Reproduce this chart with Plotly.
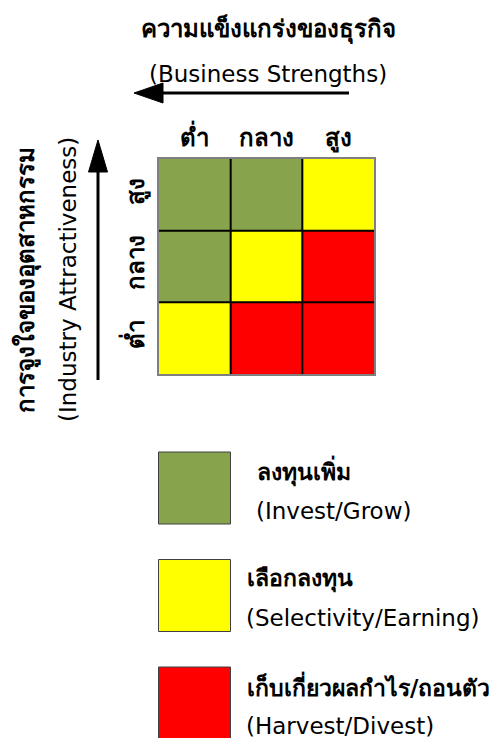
import plotly.graph_objects as go

# ---- data ----
col_labels = ["ต่ำ", "กลาง", "สูง"]          # Business Strengths (left->right)
row_labels = ["ต่ำ", "กลาง", "สูง"]          # Industry Attractiveness (bottom->top)
# 0 = Invest/Grow, 1 = Selectivity/Earning, 2 = Harvest/Divest
zone_matrix = [
    [1, 2, 2],   # ต่ำ
    [0, 1, 2],   # กลาง
    [0, 0, 1],   # สูง
]
legend_codes = [0, 1, 2]
legend_th = ["ลงทุนเพิ่ม", "เลือกลงทุน", "เก็บเกี่ยวผลกำไร/ถอนตัว"]
legend_en = ["(Invest/Grow)", "(Selectivity/Earning)", "(Harvest/Divest)"]
title_th = "ความแข็งแกร่งของธุรกิจ"
title_en = "(Business Strengths)"
ytitle_th = "การจูงใจของอุตสาหกรรม"
ytitle_en = "(Industry Attractiveness)"

GREEN, YELLOW, RED = "#87A34B", "#FFFF00", "#FF0000"
zone_colors = [GREEN, YELLOW, RED]

W, H = 501, 738
def px(x):
    return x / W
def py(y):
    return 1 - y / H

FONT = "Tahoma, DejaVu Sans, sans-serif"
TH_SIZE = 24
EN_SIZE = 23

fig = go.Figure()

# ---- main grid ----
cs = [[0, GREEN], [1/3, GREEN], [1/3, YELLOW], [2/3, YELLOW], [2/3, RED], [1, RED]]
fig.add_trace(go.Heatmap(
    z=zone_matrix, x=col_labels, y=row_labels,
    colorscale=cs, zmin=-0.5, zmax=2.5, showscale=False,
    hoverinfo="skip", xaxis="x", yaxis="y",
))

# ---- legend boxes ----
fig.add_trace(go.Scatter(
    x=[0] * len(legend_codes), y=list(range(len(legend_codes))),
    mode="markers",
    marker=dict(symbol="square", size=72,
                color=[zone_colors[c] for c in legend_codes],
                line=dict(color="#404040", width=1)),
    hoverinfo="skip", showlegend=False,
    xaxis="x2", yaxis="y2",
))

grid_l, grid_r, grid_t, grid_b = 159, 374, 159, 374
leg_top, leg_c0, leg_pitch = 420, 488, 107.5
leg_y0 = (leg_top - leg_c0) / leg_pitch
leg_y1 = (H - leg_c0) / leg_pitch

fig.update_layout(
    width=W, height=H,
    margin=dict(l=0, r=0, t=0, b=0),
    paper_bgcolor="white",
    plot_bgcolor="white",
    showlegend=False,
    font=dict(family=FONT, color="black"),
    xaxis=dict(domain=[px(grid_l), px(grid_r)], side="top", anchor="y",
               showgrid=False, zeroline=False, ticks="",
               showline=True, linecolor="#7f7f7f", linewidth=1.5, mirror=True,
               tickfont=dict(size=TH_SIZE, family=FONT, weight="bold"),
               ticklabelstandoff=2, fixedrange=True),
    yaxis=dict(domain=[py(grid_b), py(grid_t)], anchor="x",
               showgrid=False, zeroline=False, ticks="",
               showline=True, linecolor="#7f7f7f", linewidth=1.5, mirror=True,
               tickangle=-90,
               tickfont=dict(size=TH_SIZE, family=FONT, weight="bold"),
               ticklabelstandoff=4, fixedrange=True),
    xaxis2=dict(domain=[0, 1], range=[-194.5, W - 194.5], anchor="y2",
                visible=False, fixedrange=True),
    yaxis2=dict(domain=[0, py(leg_top)], range=[leg_y1, leg_y0], anchor="x2",
                visible=False, fixedrange=True),
)

anns = []
# titles
anns.append(dict(text=title_th, x=px(268), y=py(29), xref="paper", yref="paper",
                 xanchor="center", yanchor="middle",
                 showarrow=False, font=dict(size=TH_SIZE, weight="bold")))
anns.append(dict(text=title_en, x=px(268), y=py(74), xref="paper", yref="paper",
                 xanchor="center", yanchor="middle",
                 showarrow=False, font=dict(size=EN_SIZE)))
anns.append(dict(text=ytitle_th, x=px(26), y=py(280), xref="paper", yref="paper",
                 xanchor="center", yanchor="middle",
                 showarrow=False, textangle=-90, font=dict(size=TH_SIZE, weight="bold")))
anns.append(dict(text=ytitle_en, x=px(68), y=py(280), xref="paper", yref="paper",
                 xanchor="center", yanchor="middle",
                 showarrow=False, textangle=-90, font=dict(size=EN_SIZE)))
# legend texts
leg_text_x = [60.5, 50.5, 50.5]
for i, (th, en) in enumerate(zip(legend_th, legend_en)):
    anns.append(dict(text=th, x=leg_text_x[i], y=i - 17 / leg_pitch, xref="x2", yref="y2",
                     xanchor="left", yanchor="middle", showarrow=False,
                     font=dict(size=23, weight="bold")))
    anns.append(dict(text=en, x=leg_text_x[i] - 1, y=i + 22.5 / leg_pitch, xref="x2", yref="y2",
                     xanchor="left", yanchor="middle", showarrow=False,
                     font=dict(size=EN_SIZE)))
fig.update_layout(annotations=anns)

shapes = []
# internal grid lines between cells (derived from the number of categories)
for k in range(1, len(col_labels)):
    shapes.append(dict(type="line", xref="x", yref="y domain",
                       x0=k - 0.5, x1=k - 0.5, y0=0, y1=1,
                       line=dict(color="black", width=2)))
for k in range(1, len(row_labels)):
    shapes.append(dict(type="line", xref="x domain", yref="y",
                       x0=0, x1=1, y0=k - 0.5, y1=k - 0.5,
                       line=dict(color="black", width=2)))
# horizontal arrow (pointing left)
shapes.append(dict(type="line", xref="paper", yref="paper",
                   x0=px(349), y0=py(93), x1=px(160), y1=py(93),
                   line=dict(color="black", width=3)))
shapes.append(dict(type="path", xref="paper", yref="paper",
                   path=f"M {px(134)} {py(93)} L {px(163)} {py(83)} L {px(163)} {py(103)} Z",
                   fillcolor="black", line=dict(color="black", width=1)))
# vertical arrow (pointing up)
shapes.append(dict(type="line", xref="paper", yref="paper",
                   x0=px(98), y0=py(380), x1=px(98), y1=py(168),
                   line=dict(color="black", width=3)))
shapes.append(dict(type="path", xref="paper", yref="paper",
                   path=f"M {px(98)} {py(140)} L {px(88.5)} {py(172)} L {px(107.5)} {py(172)} Z",
                   fillcolor="black", line=dict(color="black", width=1)))
fig.update_layout(shapes=shapes)

fig.write_html("out.html")
